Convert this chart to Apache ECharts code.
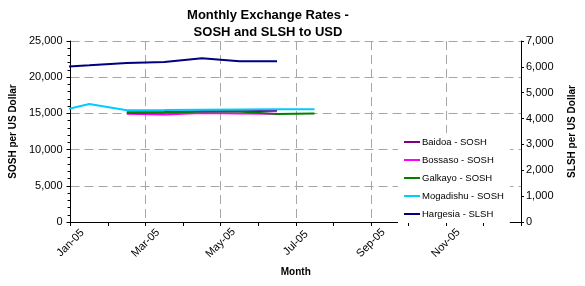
<!DOCTYPE html>
<html>
<head>
<meta charset="utf-8">
<script src="https://cdn.jsdelivr.net/npm/echarts@6/dist/echarts.min.js"></script>
<style>html,body{margin:0;padding:0;background:#fff}#c{width:585px;height:286px}</style>
</head>
<body>
<div id="c"></div>
<script>
// Month labels for the x axis ticks (index 0 = Jan-05 ... 12 = Jan-06)
var tickLabels = ['Jan-05','Feb-05','Mar-05','Apr-05','May-05','Jun-05','Jul-05','Aug-05','Sep-05','Oct-05','Nov-05','Dec-05',''];
// Data months (mid-month positions, Dec-04 .. Jul-05)
var months = ['Dec-04','Jan-05','Feb-05','Mar-05','Apr-05','May-05','Jun-05','Jul-05'];
var monthPos = [-0.5, 0.5, 1.5, 2.5, 3.5, 4.5, 5.5, 6.5];
var baidoa    = [null, null, 15150, 15200, 15300, 15300, 15350, null];
var bossaso   = [null, null, 14950, 14850, 15050, 15000, 14950, null];
var galkayo   = [null, null, 15050, 15100, 15250, 15250, 14900, 15000];
var mogadishu = [15100, 16300, 15450, 15470, 15520, 15540, 15560, 15570];
var hargesia  = [5980, 6060, 6150, 6190, 6330, 6220, 6220, null];

function pts(arr){
  var out = [];
  for (var i = 0; i < arr.length; i++) if (arr[i] !== null) out.push([monthPos[i], arr[i]]);
  return out;
}
function fmt(v){ return String(v).replace(/\B(?=(\d{3})+(?!\d))/g, ','); }

var FONT = '"Liberation Sans", Arial, sans-serif';
var grid = '#a6a6a6';
var chart = echarts.init(document.getElementById('c'), null, {renderer:'canvas'});
function line(name, color, data, yIdx){
  return {name:name, type:'line', yAxisIndex:yIdx, data:pts(data), symbol:'none',
    lineStyle:{color:color, width:2}, itemStyle:{color:color}, clip:true, animation:false};
}
chart.setOption({
  animation:false,
  textStyle:{fontFamily:FONT},
  title:{text:'Monthly Exchange Rates -\nSOSH and SLSH to USD', left:263, top:2, textAlign:'center',
    textStyle:{fontFamily:FONT, fontSize:13, fontWeight:'bold', color:'#000', lineHeight:17}},
  grid:{left:59.5, right:55.5, top:41, bottom:64, containLabel:false},
  legend:{orient:'vertical', left:398, top:133, backgroundColor:'#fff', padding:[4,6,4,6],
    itemWidth:16, itemHeight:2, itemGap:8, icon:'rect',
    textStyle:{fontFamily:FONT, fontSize:9.5, color:'#000', padding:[0,0,0,-3]},
    data:['Baidoa - SOSH','Bossaso - SOSH','Galkayo - SOSH','Mogadishu - SOSH','Hargesia - SLSH']},
  xAxis:{type:'value', min:0, max:12, interval:2,
    name:'Month', nameLocation:'middle', nameGap:45,
    nameTextStyle:{fontFamily:FONT, fontSize:10, fontWeight:'bold', color:'#000'},
    axisLine:{lineStyle:{color:'#000', width:1}},
    axisTick:{show:true, length:4, lineStyle:{color:'#000'}},
    minorTick:{show:true, splitNumber:2, length:4, lineStyle:{color:'#000'}},
    axisLabel:{rotate:45, align:'center', verticalAlign:'middle', fontFamily:FONT, fontSize:11, color:'#000', margin:21, showMaxLabel:false,
      formatter:function(v){ return tickLabels[Math.round(v)] || ''; }},
    splitLine:{show:true, lineStyle:{color:grid, type:[9,5], width:1}}},
  yAxis:[
    {type:'value', position:'left', min:0, max:25000, interval:5000,
     name:'SOSH per US Dollar', nameLocation:'middle', nameRotate:90, nameGap:42,
     nameTextStyle:{fontFamily:FONT, fontSize:10, fontWeight:'bold', color:'#000'},
     axisLine:{show:true, lineStyle:{color:'#000'}},
     axisTick:{show:true, length:4, lineStyle:{color:'#000'}},
     minorTick:{show:true, splitNumber:5, length:3, lineStyle:{color:'#000'}},
     axisLabel:{fontFamily:FONT, fontSize:11, color:'#000', margin:8, formatter:fmt},
     splitLine:{show:true, lineStyle:{color:grid, type:[9,5], width:1}}},
    {type:'value', position:'right', min:0, max:7000, interval:1000,
     name:'SLSH per US Dollar', nameLocation:'middle', nameRotate:90, nameGap:46,
     nameTextStyle:{fontFamily:FONT, fontSize:10, fontWeight:'bold', color:'#000'},
     axisLine:{show:true, lineStyle:{color:'#000'}},
     axisTick:{show:true, length:3, lineStyle:{color:'#000'}},
     axisLabel:{fontFamily:FONT, fontSize:11, color:'#000', margin:5, formatter:fmt},
     splitLine:{show:false}}
  ],
  series:[
    line('Baidoa - SOSH', '#800080', baidoa, 0),
    line('Bossaso - SOSH', '#ff00ff', bossaso, 0),
    line('Galkayo - SOSH', '#008000', galkayo, 0),
    line('Mogadishu - SOSH', '#00ccff', mogadishu, 0),
    line('Hargesia - SLSH', '#000080', hargesia, 1)
  ]
});
</script>
</body>
</html>
